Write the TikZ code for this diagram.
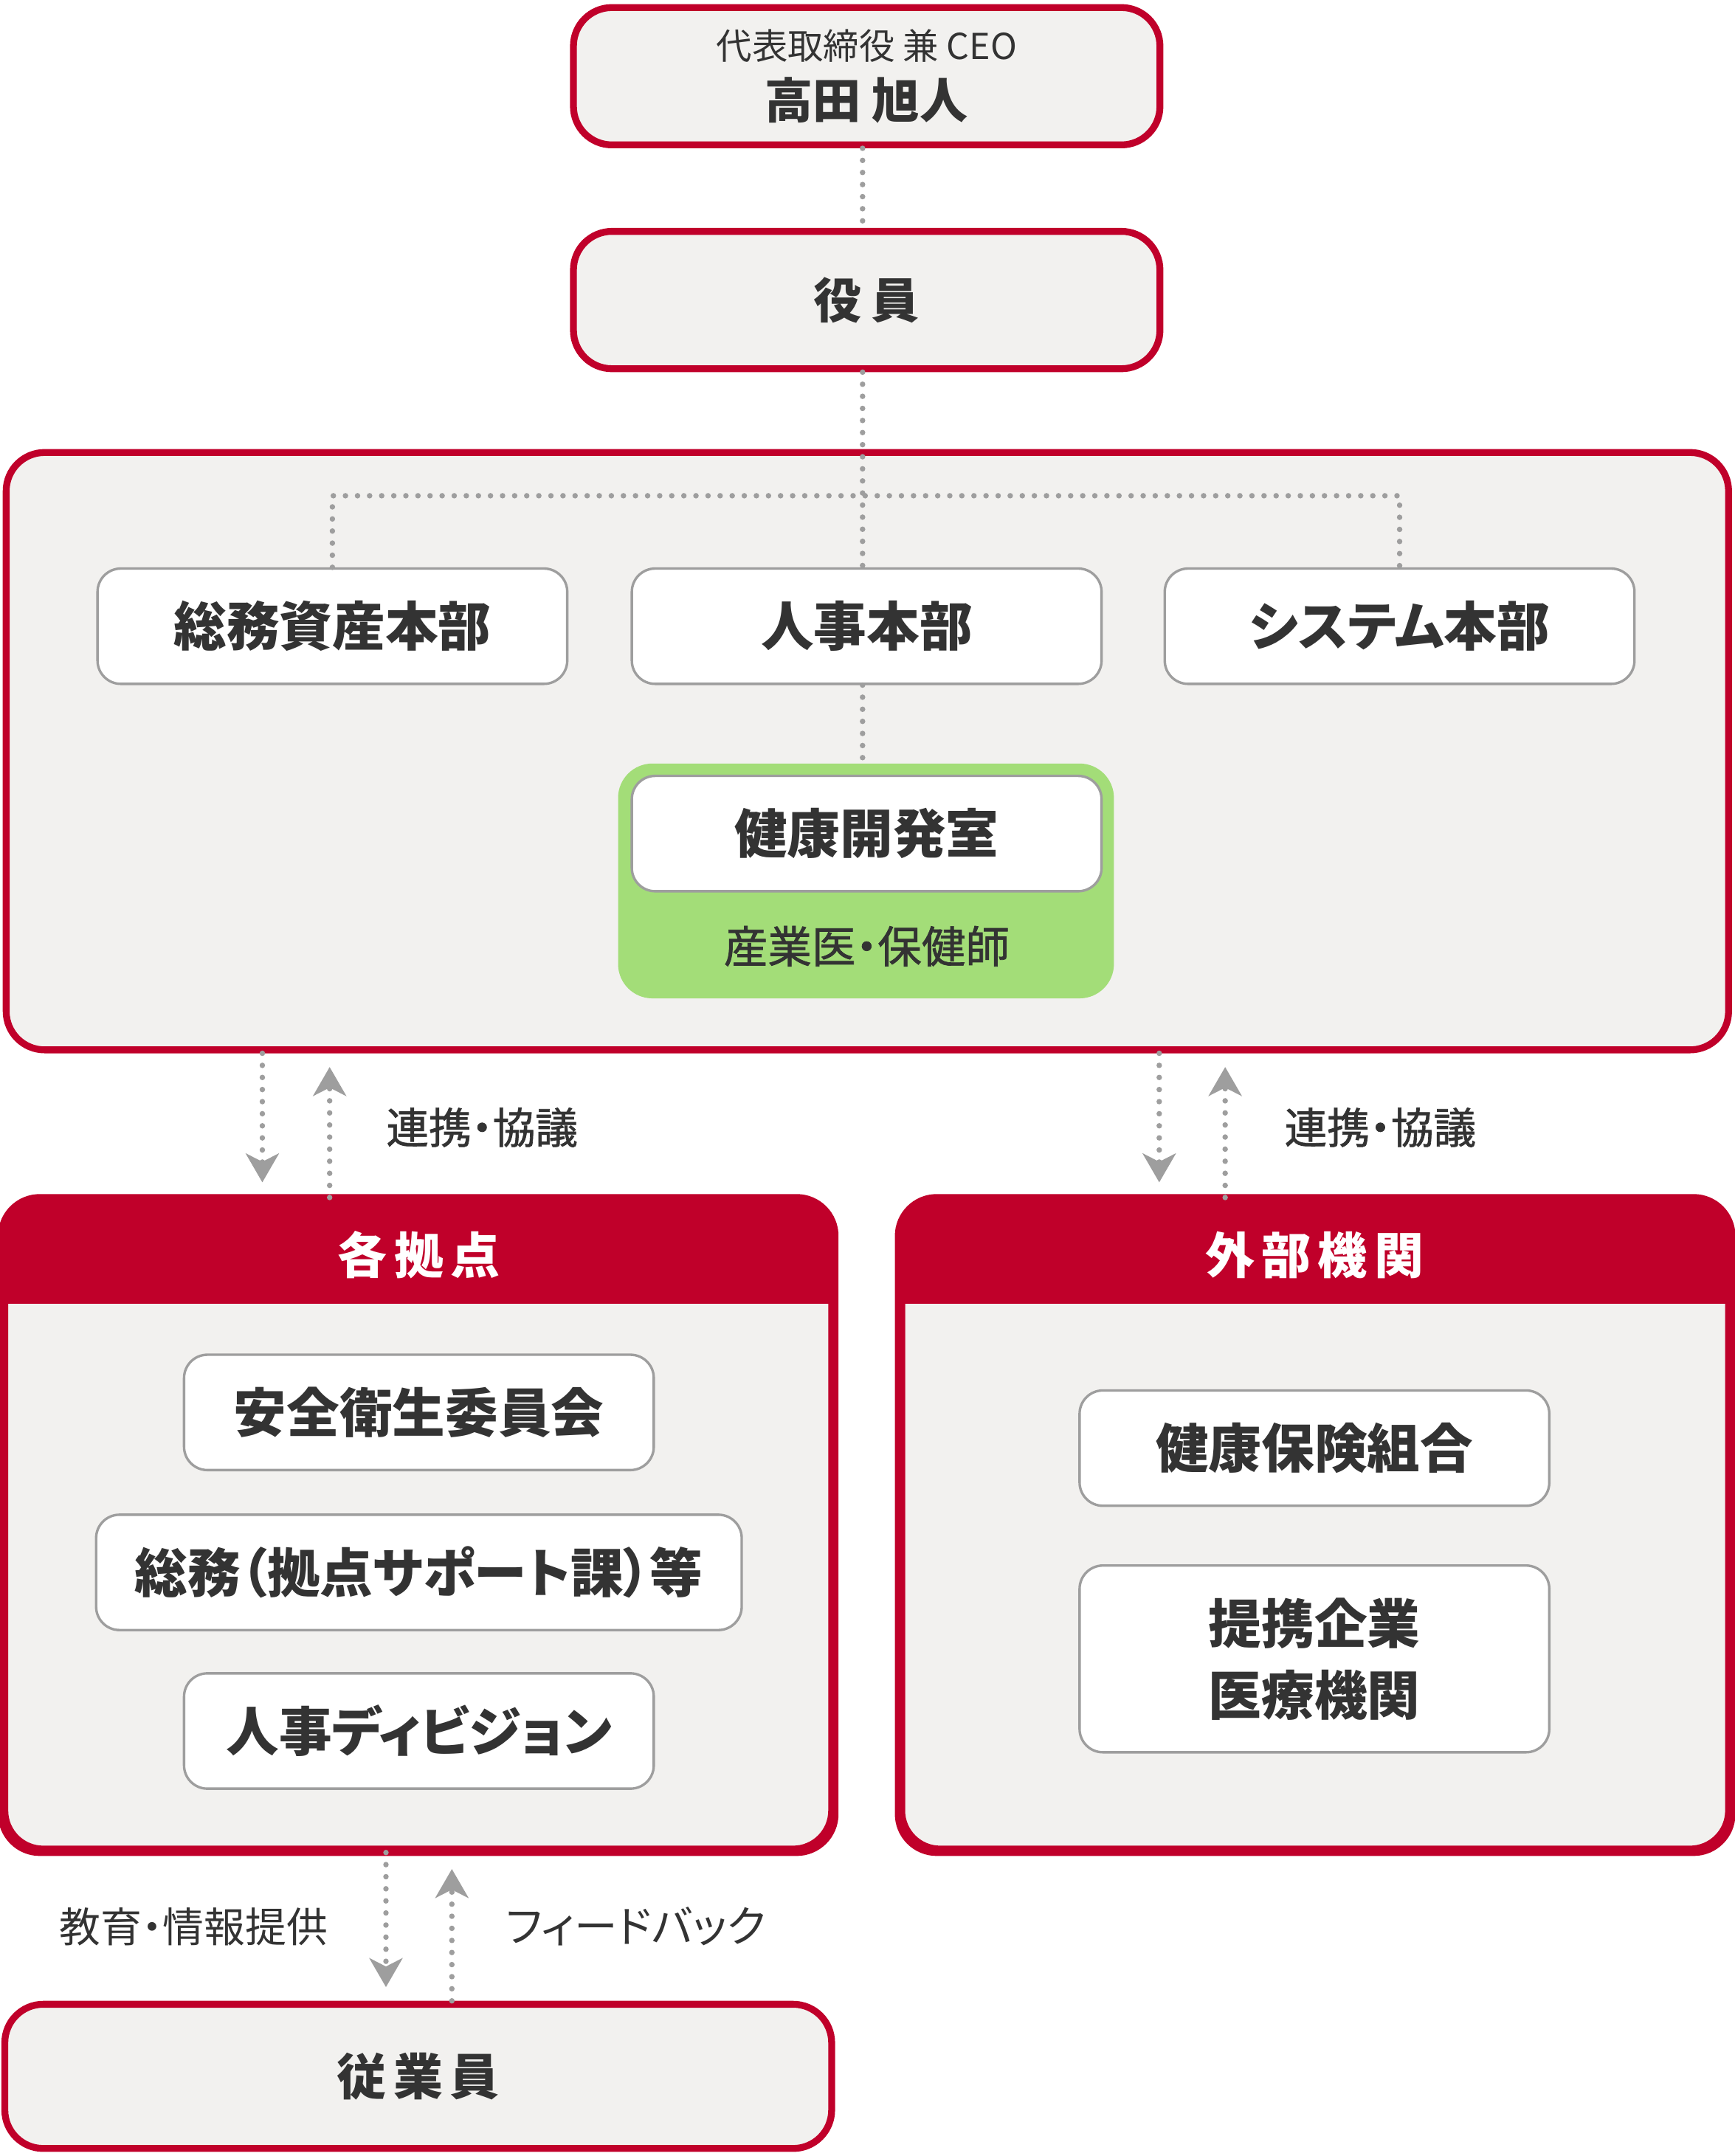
\documentclass[tikz,border=0pt]{standalone}
\usepackage{fontspec}
\setmainfont[RawFeature=+palt]{Noto Sans CJK JP}
\newfontfamily\jpmed[RawFeature={+palt;embolden=1.2}]{Noto Sans CJK JP}
\usetikzlibrary{arrows.meta}
\definecolor{cred}{RGB}{192,0,42}
\definecolor{cbg}{RGB}{242,241,239}
\definecolor{cgreen}{RGB}{163,221,120}
\definecolor{cgray}{RGB}{158,158,158}
\definecolor{ctext}{RGB}{51,51,51}
\begin{document}
\begin{tikzpicture}[x=1pt,y=-1pt,
  redbox/.style={draw=cred, line width=5pt, fill=cbg, rounded corners=28pt, inner sep=0pt, text=ctext},
  whitebox/.style={draw=cgray, line width=1.8pt, fill=white, rounded corners=17pt, inner sep=0pt, text=ctext, minimum height=84pt, font=\bfseries\fontsize{38.5}{44}\selectfont, align=center},
  hdrtext/.style={text=white, inner sep=0pt, font=\bfseries\fontsize{36}{40}\selectfont},
  lbl/.style={text=ctext, inner sep=0pt, font=\fontsize{30}{34}\selectfont},
  medlbl/.style={text=ctext, inner sep=0pt, font=\jpmed\fontsize{31}{34}\selectfont},
  dotline/.style={cgray, line width=4pt, line cap=round, dash pattern=on 0pt off 8.8pt},
  darrow/.style={dotline, -{Stealth[length=21pt, width=24pt, inset=6pt]}}
]
\useasboundingbox (0,0) rectangle (1263,1570);

% top boxes
\node[redbox, minimum width=427pt, minimum height=100pt, align=center] (ceo) at (631,55.5)
  {{\fontsize{26}{30}\selectfont 代表取締役 兼 CEO}\\[10pt]{\bfseries\fontsize{35}{40}\selectfont 高田 旭人}};
\node[redbox, minimum width=427pt, minimum height=100pt, font=\bfseries\fontsize{35}{40}\selectfont] (yaku) at (631,218.5) {役\hspace{7pt}員};

% head office
\node[redbox, minimum width=1254pt, minimum height=435pt] (hq) at (631.5,547) {};
\node[whitebox, minimum width=342pt] (soumu) at (242,456) {総務資産本部};
\node[whitebox, minimum width=342pt] (jin) at (631,456) {人事本部};
\node[whitebox, minimum width=342pt] (sys) at (1019,456) {システム本部};
\node[fill=cgreen, rounded corners=25pt, minimum width=361pt, minimum height=171pt, inner sep=0pt] (green) at (630.5,641.5) {};
\node[whitebox, minimum width=342pt] (kenko) at (631,607) {健康開発室};
\node[medlbl, font=\jpmed\fontsize{32}{34}\selectfont] (sangyo) at (631,689) {産業医・保健師};

% sites
\node[redbox, minimum width=602pt, minimum height=472pt] (kyo) at (304.5,1110.5) {};
\begin{scope}
  \clip[rounded corners=28pt] (kyo.north west) rectangle (kyo.south east);
  \fill[cred] (kyo.north west) rectangle ([yshift=-77.5pt]kyo.north east);
\end{scope}
\draw[cred, line width=5pt, rounded corners=28pt] (kyo.north west) rectangle (kyo.south east);
\node[hdrtext] (kyoh) at (305,914) {各\hspace{5pt}拠\hspace{5pt}点};
\node[whitebox, minimum width=342pt] (anzen) at (305,1028.5) {安全衛生委員会};
\node[whitebox, minimum width=470pt] (soumu2) at (305,1145) {総務（拠点サポート課）等};
\node[whitebox, minimum width=342pt] (jindiv) at (305,1260.5) {人事ディビジョン};

% external
\node[redbox, minimum width=602pt, minimum height=472pt] (gai) at (957.5,1110.5) {};
\begin{scope}
  \clip[rounded corners=28pt] (gai.north west) rectangle (gai.south east);
  \fill[cred] (gai.north west) rectangle ([yshift=-77.5pt]gai.north east);
\end{scope}
\draw[cred, line width=5pt, rounded corners=28pt] (gai.north west) rectangle (gai.south east);
\node[hdrtext] (gaih) at (957,914) {外\hspace{5pt}部\hspace{5pt}機\hspace{5pt}関};
\node[whitebox, minimum width=342pt] (kenpo) at (957,1054.5) {健康保険組合};
\node[whitebox, minimum width=342pt, minimum height=136pt] (teikei) at (957,1208) {提携企業\\[8pt]医療機関};

% employees
\node[redbox, minimum width=602pt, minimum height=105pt, font=\bfseries\fontsize{36}{40}\selectfont] (jyu) at (304.5,1512) {従\hspace{5pt}業\hspace{5pt}員};

% connectors inside
\coordinate (spine) at (628,0);
\coordinate (bar) at (628,361);
\draw[dotline] (ceo.south -| spine) -- (yaku.north -| spine);
\draw[dotline] (yaku.south -| spine) -- (jin.north -| spine);
\draw[dotline] (soumu.north) -- (soumu.north |- bar) -- (sys.north |- bar) -- (sys.north);
\draw[dotline] (jin.south -| spine) -- (green.north -| spine);

% arrows between blocks
\coordinate (d1) at (191,861);
\coordinate (u1) at (240,777);
\coordinate (d2) at (844,861);
\coordinate (u2) at (892,777);
\coordinate (d3) at (281,1447);
\coordinate (u3) at (329,1361);
\draw[darrow] (hq.south -| d1) -- (d1);
\draw[darrow] (kyo.north -| u1) -- (u1);
\draw[darrow] (hq.south -| d2) -- (d2);
\draw[darrow] (gai.north -| u2) -- (u2);
\draw[darrow] (kyo.south -| d3) -- (d3);
\draw[darrow] (jyu.north -| u3) -- (u3);

\node[medlbl] (l1) at (351,821) {連携・協議};
\node[medlbl] (l2) at (1005,821) {連携・協議};
\node[lbl] (l3) at (141,1403) {教育・情報提供};
\node[lbl, font=\fontsize{31.5}{34}\selectfont] (l4) at (463,1403) {フィードバック};
\end{tikzpicture}
\end{document}
